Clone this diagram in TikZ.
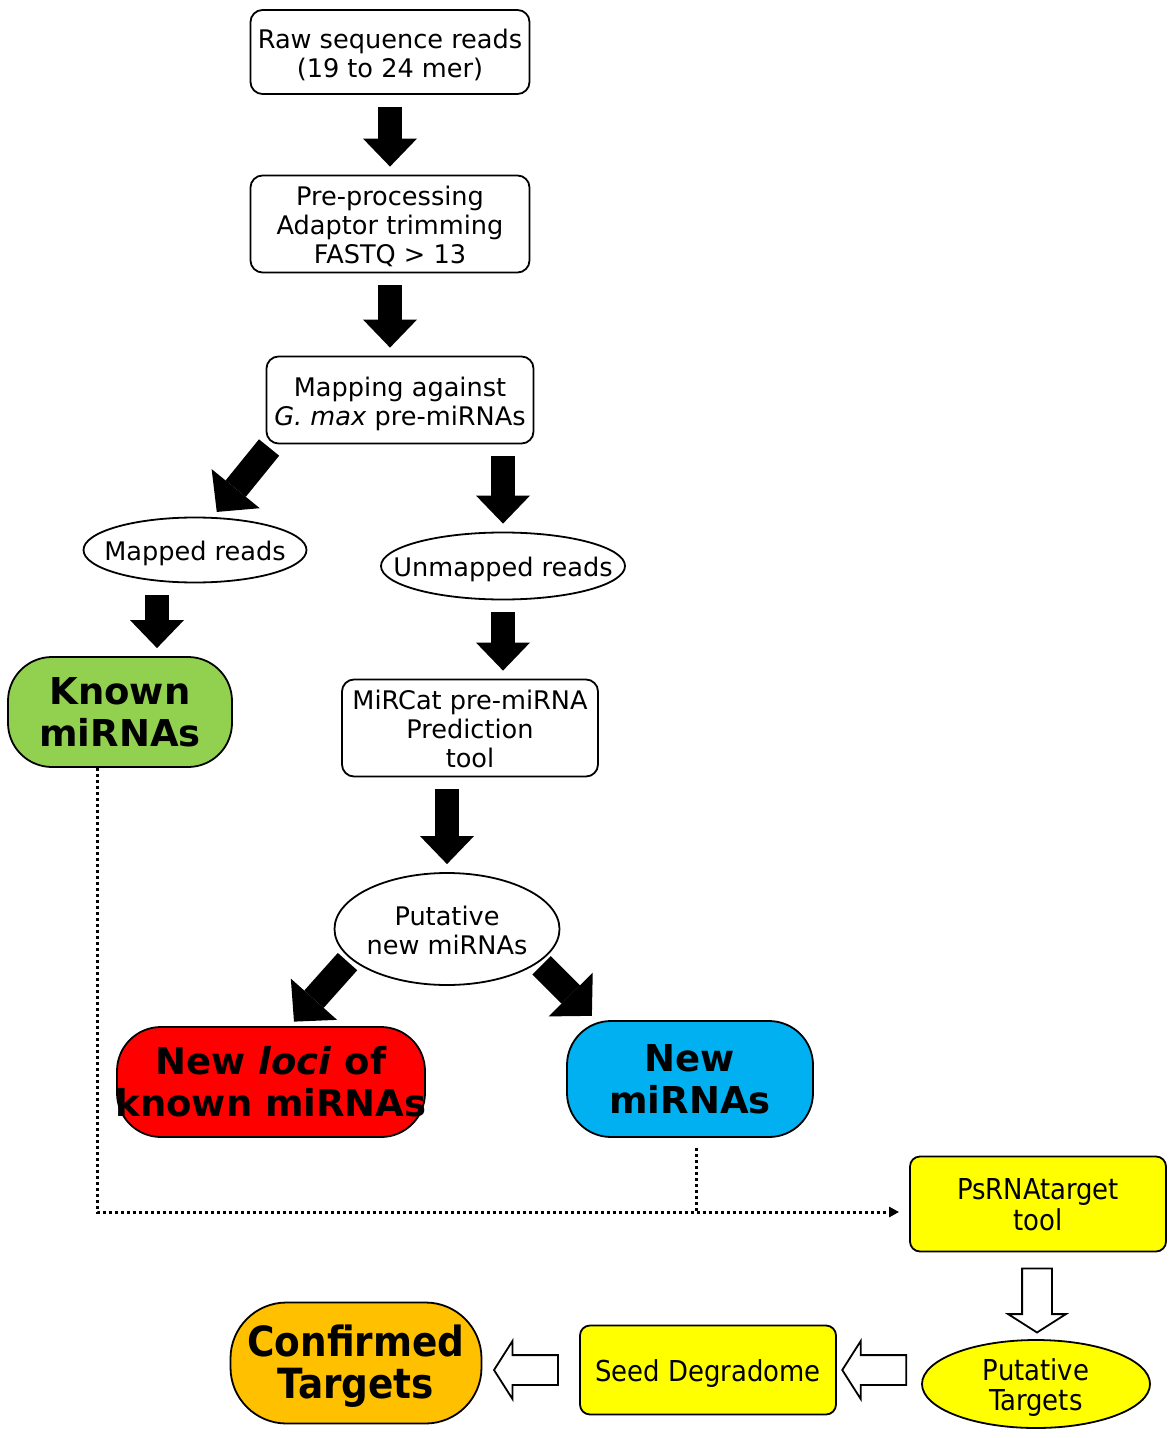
\documentclass[tikz,border=0pt]{standalone}
\usepackage{fontspec}
\setmainfont{DejaVu Sans}
\newfontfamily\condfont{DejaVu Sans Condensed}
\usetikzlibrary{arrows.meta, shapes.geometric, shapes.arrows, calc}
\definecolor{leafgreen}{HTML}{92D050}
\definecolor{locired}{HTML}{FF0000}
\definecolor{skyblue}{HTML}{00B0F0}
\definecolor{hiyellow}{HTML}{FFFF00}
\definecolor{amber}{HTML}{FFC000}
\newcommand{\boxtext}[1]{\makebox[0pt]{\raisebox{-2.5pt}[\height][\depth]{\begin{tabular}{@{}c@{}}#1\end{tabular}}}}

\begin{document}
\begin{tikzpicture}[x=0.5pt, y=-0.5pt,
    stage/.style={draw, line width=0.9pt, rounded corners=6pt, inner sep=0pt,
                  font=\fontsize{12.8}{14.5}\selectfont},
    oval/.style={draw, ellipse, line width=0.9pt, inner sep=0pt,
                 font=\fontsize{12.8}{14.5}\selectfont},
    result/.style={draw, line width=0.9pt, rounded corners=22pt, inner sep=0pt,
                   font=\fontsize{18.5}{21}\selectfont\bfseries},
    target/.style={draw, line width=0.9pt, rounded corners=5pt, fill=hiyellow, inner sep=0pt,
                   font=\condfont\fontsize{14.4}{14.5}\selectfont},
    blk/.style={line width=12pt, -{Triangle[width=27pt,length=14pt,line width=0pt]},
                shorten <=6pt, shorten >=4pt},
    blkdiag/.style={line width=13pt, -{Triangle[width=31pt,length=15pt,line width=0pt]},
                    shorten <=2pt, shorten >=3pt},
    hollow/.style={draw, line width=0.9pt, fill=white, single arrow, single arrow head extend=7pt,
                   single arrow tip angle=115, inner sep=7pt, minimum height=32pt},
    dots/.style={line width=1.5pt, dash pattern=on 1.5pt off 1.5pt}]
  \useasboundingbox (0,0) rectangle (1168,1438);
  % Read processing
  \node[stage, minimum width=139.5pt, minimum height=42pt] (raw) at (390,52)
    {\boxtext{Raw sequence reads\\(19 to 24 mer)}};
  \node[stage, minimum width=139.5pt, minimum height=48.5pt] (prep) at (390,224)
    {\boxtext{Pre-processing\\Adaptor trimming\\FASTQ > 13}};
  \node[stage, minimum width=133.5pt, minimum height=43.5pt] (map) at (400,400)
    {\boxtext{Mapping against\\\textit{G. max} pre-miRNAs}};
  \node[oval, minimum width=111.5pt, minimum height=32.5pt] (mapped) at (195,550)
    {\boxtext{Mapped reads}};
  \node[oval, minimum width=122pt, minimum height=33.5pt] (unmapped) at (503,566)
    {\boxtext{Unmapped reads}};
  \node[result, fill=leafgreen, minimum width=112pt, minimum height=55pt] (known) at (120,712)
    {\boxtext{Known\\miRNAs}};
  \node[stage, minimum width=128pt, minimum height=48.5pt] (mircat) at (470,728)
    {\boxtext{MiRCat pre-miRNA\\Prediction\\tool}};
  \node[oval, minimum width=112.5pt, minimum height=56pt] (putative) at (447,929)
    {\boxtext{Putative\\new miRNAs}};
  % Results
  \node[result, fill=locired, minimum width=154pt, minimum height=55pt] (newloci) at (271,1082)
    {\boxtext{New \textit{loci} of\\known miRNAs}};
  \node[result, fill=skyblue, minimum width=123pt, minimum height=58pt] (newmirna) at (690,1079)
    {\boxtext{New\\miRNAs}};
  % Target search
  \node[target, minimum width=128pt, minimum height=47.5pt] (psrna) at (1038,1204)
    {\boxtext{PsRNAtarget\\tool}};
  \node[target, ellipse, sharp corners, minimum width=114pt, minimum height=44pt] (puttarget) at (1036,1384)
    {\boxtext{Putative\\Targets}};
  \node[target, minimum width=128pt, minimum height=44.5pt] (seed) at (708,1370)
    {\boxtext{Seed Degradome}};
  \node[result, fill=amber, rounded corners=28pt, minimum width=125.5pt, minimum height=60.5pt,
        font=\condfont\fontsize{20.8}{21}\selectfont\bfseries] (confirmed) at (356,1363)
    {\boxtext{Confirmed\\Targets}};
  % Block arrows
  \draw[blk] (raw.south) -- (prep.north);
  \draw[blk] (prep.south) -- (prep.south |- map.north);
  \draw[blkdiag] ([xshift=3pt]map.south west) -- ([xshift=9pt]mapped.north);
  \draw[blk] (unmapped.north |- map.south) -- (unmapped.north);
  \draw[blk] ([xshift=-19pt]mapped.south) -- ([xshift=18.5pt]known.north);
  \draw[blk] (unmapped.south) -- (unmapped.south |- mircat.north);
  \draw[blk] (putative.north |- mircat.south) -- (putative.north);
  \draw[blkdiag] (putative.197) -- ([xshift=9.5pt]newloci.north);
  \draw[blkdiag] (putative.-20) -- ([xshift=15pt]newmirna.north west);
  % Dotted feed into target search
  \coordinate (feed) at ([yshift=-4pt]psrna.west);
  \coordinate (drop) at ([xshift=3pt,yshift=-5pt]newmirna.south);
  \draw[dots, -{Triangle[length=5pt,width=5pt]}, shorten >=5pt] ([xshift=-11.5pt]known.south) |- (feed);
  \draw[dots] (drop) -- (drop |- feed);
  % Hollow arrows
  \node[hollow, shape border rotate=270] (godown) at ($(psrna.south)!0.5!(puttarget.north)$) {};
  \node[hollow, shape border rotate=180] (toseed) at ($(seed.east)!0.5!(seed.east -| puttarget.west)$) {};
  \node[hollow, shape border rotate=180] (toconf) at ($(confirmed.east |- seed.west)!0.5!(seed.west)$) {};
\end{tikzpicture}
\end{document}
